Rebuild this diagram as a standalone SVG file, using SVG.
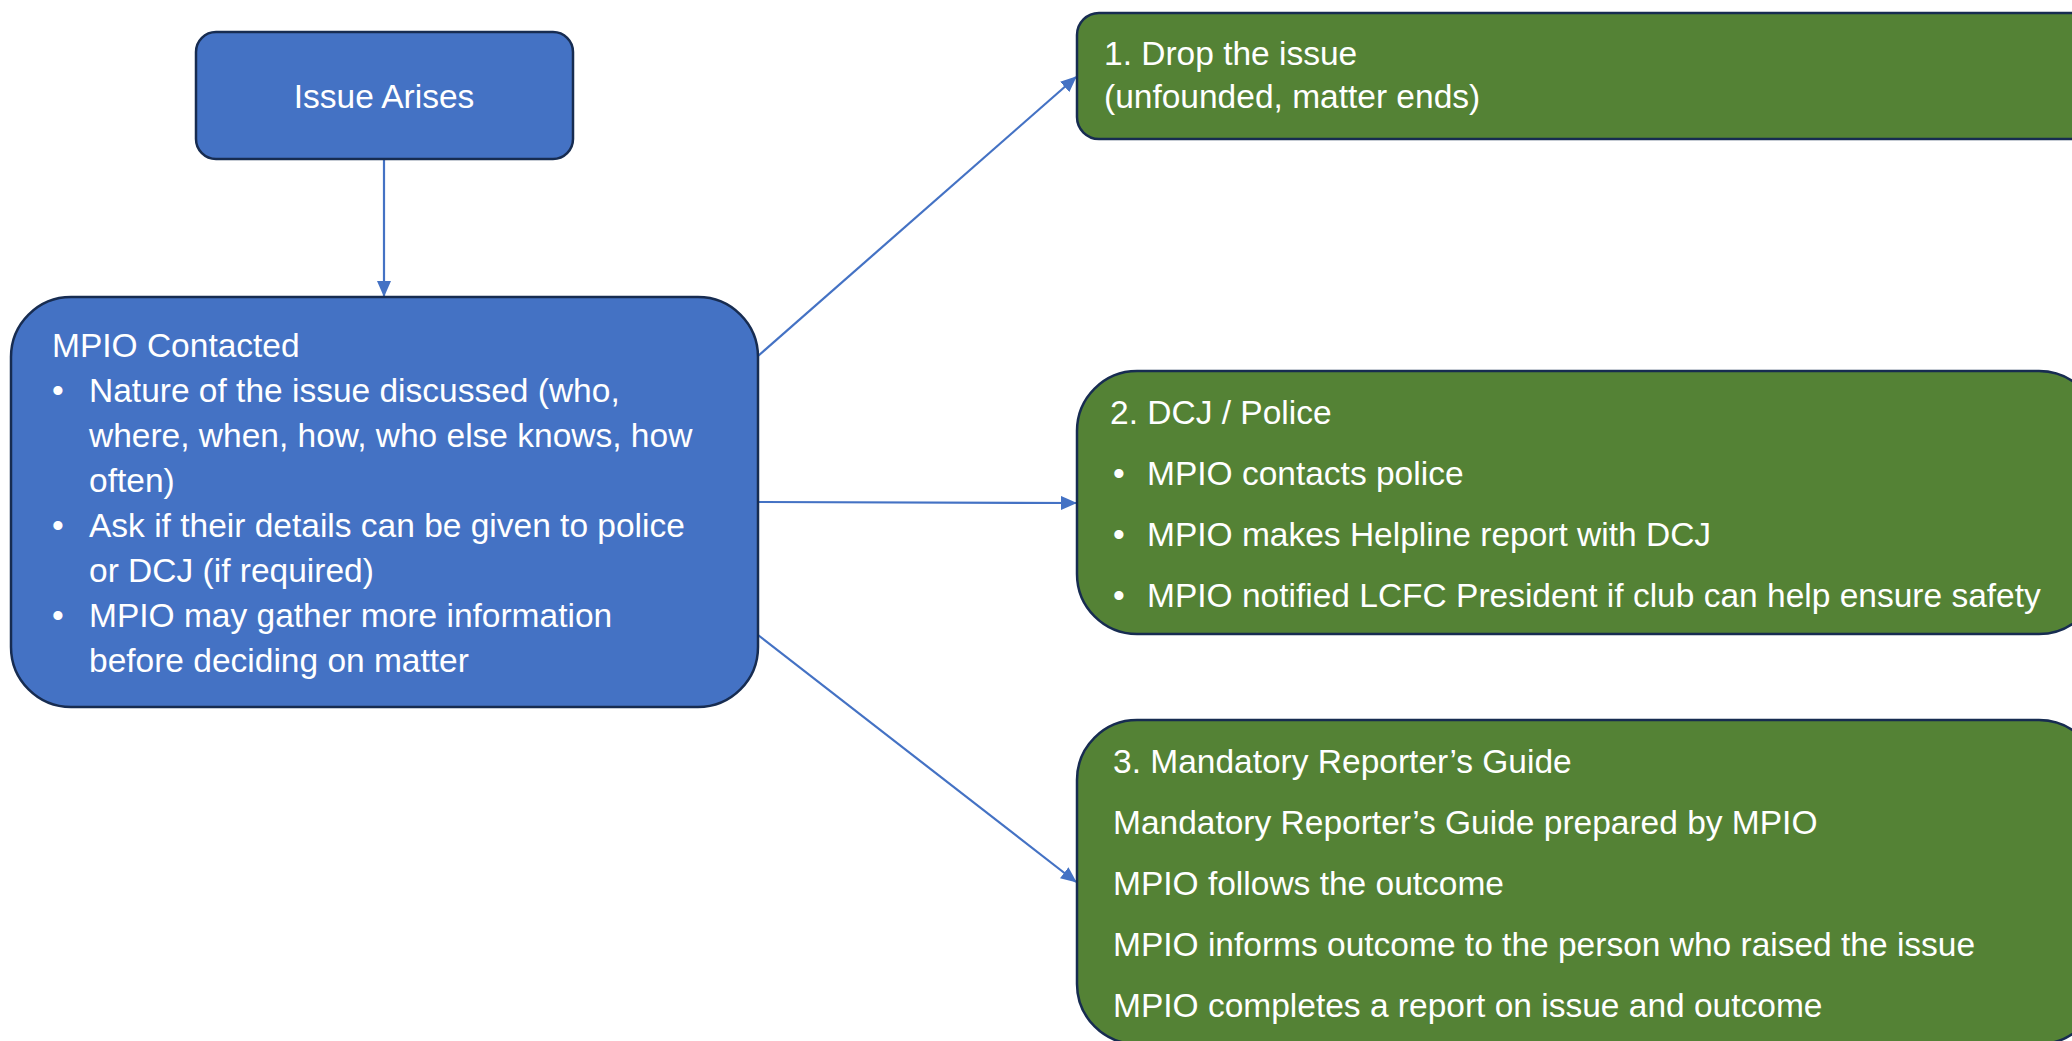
<svg xmlns="http://www.w3.org/2000/svg" width="2072" height="1041" viewBox="0 0 2072 1041">
<style>
.blue{fill:#4472C4;stroke:#172C51;stroke-width:2.5}
.green{fill:#548235;stroke:#172C51;stroke-width:2.5}
text{font-family:"Liberation Sans",Arial,sans-serif;font-size:33.5px;fill:#FFFFFF}
.conn{stroke:#4472C4;stroke-width:2.2;fill:none;marker-end:url(#arr)}
</style>
<defs>
<marker id="arr" markerUnits="userSpaceOnUse" markerWidth="16" markerHeight="14" refX="15" refY="7" orient="auto">
<path d="M0,0 L16,7 L0,14 Z" fill="#4472C4"/>
</marker>
</defs>
<rect width="2072" height="1041" fill="#FFFFFF"/>
<g id="connectors">
<line class="conn" x1="384" y1="160" x2="384" y2="296"/>
<line class="conn" x1="758" y1="356" x2="1076" y2="77"/>
<line class="conn" x1="758" y1="502" x2="1076" y2="503"/>
<line class="conn" x1="758" y1="635" x2="1076" y2="882"/>
</g>
<g id="issue-arises">
<rect class="blue" x="196" y="32" width="377" height="127" rx="20"/>
<text x="384" y="108" text-anchor="middle">Issue Arises</text>
</g>
<g id="mpio-contacted">
<rect class="blue" x="11" y="297" width="747" height="410" rx="60"/>
<text x="52" y="357">MPIO Contacted</text>
<text x="52" y="402">•</text><text x="89" y="402">Nature of the issue discussed (who,</text>
<text x="89" y="447">where, when, how, who else knows, how</text>
<text x="89" y="492">often)</text>
<text x="52" y="537">•</text><text x="89" y="537">Ask if their details can be given to police</text>
<text x="89" y="582">or DCJ (if required)</text>
<text x="52" y="627">•</text><text x="89" y="627">MPIO may gather more information</text>
<text x="89" y="672">before deciding on matter</text>
</g>
<g id="drop-issue">
<rect class="green" x="1077" y="13" width="1120" height="126" rx="22"/>
<text x="1104" y="65">1. Drop the issue</text>
<text x="1104" y="108">(unfounded, matter ends)</text>
</g>
<g id="dcj-police">
<rect class="green" x="1077" y="371" width="1022" height="263" rx="60"/>
<text x="1110" y="424">2. DCJ / Police</text>
<text x="1113" y="485">•</text><text x="1147" y="485">MPIO contacts police</text>
<text x="1113" y="546">•</text><text x="1147" y="546">MPIO makes Helpline report with DCJ</text>
<text x="1113" y="607">•</text><text x="1147" y="607">MPIO notified LCFC President if club can help ensure safety</text>
</g>
<g id="mandatory-reporter">
<rect class="green" x="1077" y="720" width="1022" height="324" rx="60"/>
<text x="1113" y="773">3. Mandatory Reporter’s Guide</text>
<text x="1113" y="834">Mandatory Reporter’s Guide prepared by MPIO</text>
<text x="1113" y="895">MPIO follows the outcome</text>
<text x="1113" y="956">MPIO informs outcome to the person who raised the issue</text>
<text x="1113" y="1017">MPIO completes a report on issue and outcome</text>
</g>
</svg>
